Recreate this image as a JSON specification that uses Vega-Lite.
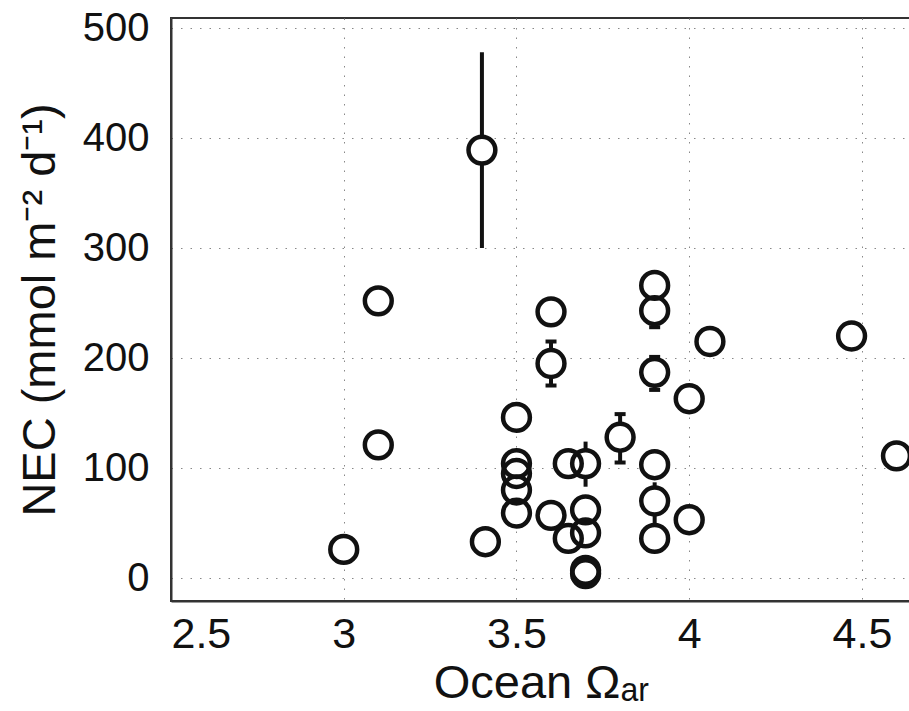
{
  "$schema": "https://vega.github.io/schema/vega-lite/v6.json",
  "autosize": "none",
  "padding": {"left": 171, "top": 18, "right": 0, "bottom": 110},
  "width": 740,
  "height": 583,
  "background": "white",
  "config": {
    "font": "Liberation Sans",
    "view": {"stroke": "#333", "strokeWidth": 2},
    "axis": {
      "labelFont": "Liberation Sans",
      "titleFont": "Liberation Sans",
      "labelColor": "#111",
      "titleColor": "#111",
      "titleFontWeight": "normal",
      "ticks": false,
      "domainColor": "#333",
      "domainWidth": 2,
      "gridColor": "#888",
      "gridDash": [1.5, 8],
      "gridWidth": 1
    }
  },
  "data": {
    "values": [
      {"omega": 3.0, "nec": 26},
      {"omega": 3.1, "nec": 252},
      {"omega": 3.1, "nec": 121},
      {"omega": 3.4, "nec": 389, "lo": 300, "hi": 478, "cap": false},
      {"omega": 3.41, "nec": 33},
      {"omega": 3.5, "nec": 146},
      {"omega": 3.5, "nec": 104},
      {"omega": 3.5, "nec": 95},
      {"omega": 3.5, "nec": 80},
      {"omega": 3.5, "nec": 59},
      {"omega": 3.6, "nec": 242},
      {"omega": 3.6, "nec": 195, "lo": 175, "hi": 215, "cap": true},
      {"omega": 3.6, "nec": 57},
      {"omega": 3.65, "nec": 104},
      {"omega": 3.65, "nec": 36},
      {"omega": 3.7, "nec": 104, "lo": 83, "hi": 124, "cap": false},
      {"omega": 3.7, "nec": 62},
      {"omega": 3.7, "nec": 41},
      {"omega": 3.7, "nec": 7},
      {"omega": 3.7, "nec": 4},
      {"omega": 3.8, "nec": 128, "lo": 105, "hi": 149, "cap": true},
      {"omega": 3.9, "nec": 266},
      {"omega": 3.9, "nec": 243, "lo": 228, "hi": 257, "cap": true},
      {"omega": 3.9, "nec": 187, "lo": 171, "hi": 201, "cap": true},
      {"omega": 3.9, "nec": 103},
      {"omega": 3.9, "nec": 70, "lo": 50, "hi": 87, "cap": false},
      {"omega": 3.9, "nec": 36},
      {"omega": 4.0, "nec": 163},
      {"omega": 4.0, "nec": 53},
      {"omega": 4.06, "nec": 215},
      {"omega": 4.47, "nec": 220},
      {"omega": 4.6, "nec": 111}
    ]
  },
  "encoding": {
    "x": {
      "field": "omega",
      "type": "quantitative",
      "scale": {"domain": [2.5, 4.642], "nice": false, "zero": false},
      "axis": {
        "values": [2.5, 3, 3.5, 4, 4.5],
        "format": "~g",
        "title": "Ocean Ωₐᵣ",
        "labelFontSize": 43,
        "titleFontSize": 47,
        "labelPadding": 12,
        "titlePadding": 4,
        "grid": true
      }
    },
    "y": {
      "field": "nec",
      "type": "quantitative",
      "scale": {"domain": [-20.9, 509.1], "nice": false, "zero": false},
      "axis": {
        "values": [0, 100, 200, 300, 400, 500],
        "title": "NEC (mmol m⁻² d⁻¹)",
        "labelFontSize": 40,
        "titleFontSize": 47,
        "labelPadding": 22,
        "titlePadding": 18,
        "grid": true
      }
    }
  },
  "layer": [
    {
      "transform": [{"filter": "isValid(datum.lo)"}],
      "mark": {"type": "rule", "color": "#111", "strokeWidth": 4},
      "encoding": {"y": {"field": "lo", "type": "quantitative"}, "y2": {"field": "hi"}}
    },
    {
      "transform": [{"filter": "datum.cap === true"}],
      "mark": {"type": "tick", "orient": "horizontal", "color": "#111", "opacity": 1, "size": 11, "thickness": 4},
      "encoding": {"y": {"field": "lo", "type": "quantitative"}}
    },
    {
      "transform": [{"filter": "datum.cap === true"}],
      "mark": {"type": "tick", "orient": "horizontal", "color": "#111", "opacity": 1, "size": 11, "thickness": 4},
      "encoding": {"y": {"field": "hi", "type": "quantitative"}}
    },
    {
      "mark": {"type": "point", "shape": "circle", "filled": true, "fill": "white", "opacity": 1, "size": 720, "strokeWidth": 0}
    },
    {
      "mark": {"type": "point", "shape": "circle", "filled": false, "stroke": "#111", "opacity": 1, "size": 720, "strokeWidth": 4.5}
    }
  ]
}
